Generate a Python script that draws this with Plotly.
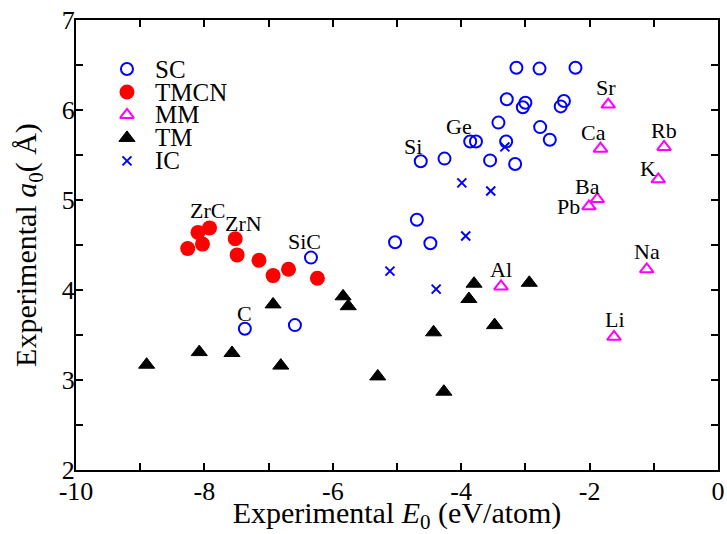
import plotly.graph_objects as go

# Experimental cohesive energy E0 (eV/atom) and lattice constant a0 (Angstrom)
sc_e0 = [-3.14, -2.78, -2.22, -3.29, -3.00, -3.04, -2.40, -2.45, -3.42, -2.77,
         -3.86, -3.77, -3.30, -2.62, -4.63, -4.26, -3.55, -3.16, -4.69, -5.03,
         -4.48, -6.34, -7.37, -6.59]
sc_a0 = [6.47, 6.46, 6.47, 6.12, 6.08, 6.03, 6.10, 6.04, 5.86, 5.81,
         5.65, 5.65, 5.65, 5.67, 5.43, 5.46, 5.44, 5.40, 4.78, 4.53,
         4.52, 4.36, 3.57, 3.61]
sc_names = ["", "", "", "", "", "", "", "", "", "",
            "Ge", "", "", "", "Si", "", "", "", "", "",
            "", "SiC", "C", ""]

tmcn_e0 = [-7.92, -8.10, -8.26, -8.03, -7.52, -7.49, -7.15, -6.93, -6.69, -6.24]
tmcn_a0 = [4.69, 4.64, 4.46, 4.51, 4.57, 4.39, 4.33, 4.16, 4.23, 4.13]
tmcn_names = ["ZrC", "", "", "", "ZrN", "", "", "", "", ""]

mm_e0 = [-1.71, -1.83, -0.84, -0.93, -1.88, -2.01, -1.11, -1.62, -3.38]
mm_a0 = [6.06, 5.57, 5.59, 5.23, 5.01, 4.93, 4.23, 3.48, 4.04]
mm_names = ["Sr", "Ca", "Rb", "K", "Ba", "Pb", "Na", "Li", "Al"]

tm_e0 = [-8.90, -8.08, -7.57, -6.81, -6.93, -5.84, -5.76, -5.30, -4.43, -4.27,
         -3.88, -3.80, -3.48, -2.94]
tm_a0 = [3.17, 3.31, 3.30, 3.16, 3.84, 3.93, 3.82, 3.04, 3.53, 2.87,
         3.90, 4.07, 3.61, 4.08]

ic_e0 = [-3.32, -3.99, -3.54, -3.93, -5.11, -4.39]
ic_a0 = [5.59, 5.19, 5.10, 4.60, 4.21, 4.01]

legend_names = ["SC", "TMCN", "MM", "TM", "IC"]

x_ticks = [-10, -8, -6, -4, -2, 0]
x_ticktext = ["-10", "-8", "-6", "-4", "-2", "0"]
y_ticks = [2, 3, 4, 5, 6, 7]
y_ticktext = ["2", "3", "4", "5", "6", "7"]

FONT = "Liberation Serif"

# marker styles per class
styles = {
    "SC": dict(symbol="circle-open", size=12, color="#0000ff", line=dict(width=2, color="#0000ff")),
    "TMCN": dict(symbol="circle", size=15, color="#ff0000", line=dict(width=0)),
    "MM": dict(symbol="triangle-up-open", size=12, color="#ff00ff", line=dict(width=2, color="#ff00ff")),
    "TM": dict(symbol="triangle-up", size=14, color="#000000", line=dict(width=1, color="#000000")),
    "IC": dict(symbol="x-thin", size=9, color="#0000ff", line=dict(width=2, color="#0000ff")),
}

series = [
    ("SC", sc_e0, sc_a0),
    ("TMCN", tmcn_e0, tmcn_a0),
    ("MM", mm_e0, mm_a0),
    ("TM", tm_e0, tm_a0),
    ("IC", ic_e0, ic_a0),
]

fig = go.Figure()
for name, xs, ys in series:
    fig.add_trace(go.Scatter(x=xs, y=ys, mode="markers", name=name,
                             marker=styles[name], showlegend=False,
                             cliponaxis=False))

# text labels next to selected compounds / elements (pixel offsets)
label_offsets = {
    "Si": (-8, 15), "Ge": (-11, 15), "SiC": (-6, 16), "C": (0, 15),
    "ZrC": (-2, 17), "ZrN": (8, 15),
    "Sr": (-2, 17), "Ca": (-7, 16), "Rb": (0, 16), "K": (-10, 11),
    "Ba": (-10, 13), "Pb": (-20, 0), "Na": (0, 18), "Li": (1, 17), "Al": (0, 17),
}
annotations = []
for names, xs, ys in [(sc_names, sc_e0, sc_a0), (tmcn_names, tmcn_e0, tmcn_a0),
                      (mm_names, mm_e0, mm_a0)]:
    for n, xv, yv in zip(names, xs, ys):
        if not n:
            continue
        dx, dy = label_offsets[n]
        annotations.append(dict(x=xv, y=yv, text=n, showarrow=False,
                                xshift=dx, yshift=dy,
                                font=dict(family=FONT, size=22, color="black")))

# legend box drawn on an overlay axis in plot-fraction units
leg_x = 0.0794
leg_text_x = 0.12
leg_y = [0.891, 0.840, 0.789, 0.738, 0.687]
for name, yy in zip(legend_names, leg_y):
    fig.add_trace(go.Scatter(x=[leg_x], y=[yy], mode="markers", marker=styles[name],
                             xaxis="x2", yaxis="y2", showlegend=False,
                             hoverinfo="skip"))
    annotations.append(dict(x=leg_text_x, y=yy, xref="paper", yref="paper",
                            text=name, showarrow=False, xanchor="left",
                            yanchor="middle",
                            font=dict(family=FONT, size=25, color="black")))

axis_common = dict(
    showline=True, linewidth=2, linecolor="black", mirror="ticks",
    ticks="inside", ticklen=7, tickwidth=1.5, tickcolor="black",
    showgrid=False, zeroline=False, automargin=False, tickmode="array",
    tickfont=dict(family=FONT, size=26, color="black"),
)

fig.update_layout(
    width=727, height=534,
    margin=dict(l=76, r=9, t=20, b=64),
    paper_bgcolor="white", plot_bgcolor="white",
    xaxis=dict(range=[-10, 0], tickvals=x_ticks, ticktext=x_ticktext,
               ticklabelstandoff=-3,
               minor=dict(dtick=1, tick0=-10, ticks="inside", ticklen=7,
                          tickwidth=1.5, tickcolor="black", showgrid=False),
               title=dict(text="Experimental <i>E</i><sub>0</sub> (eV/atom)",
                          font=dict(family=FONT, size=30, color="black"),
                          standoff=3),
               **axis_common),
    yaxis=dict(range=[2, 7], tickvals=y_ticks, ticktext=y_ticktext,
               ticklabelstandoff=-6,
               minor=dict(dtick=0.5, tick0=2, ticks="inside", ticklen=7,
                          tickwidth=1.5, tickcolor="black", showgrid=False),
               title=dict(text="Experimental <i>a</i><sub>0</sub>( Å)",
                          font=dict(family=FONT, size=30, color="black"),
                          standoff=16),
               **axis_common),
    xaxis2=dict(range=[0, 1], overlaying="x", visible=False, fixedrange=True),
    yaxis2=dict(range=[0, 1], overlaying="y", visible=False, fixedrange=True),
    annotations=annotations,
    showlegend=False,
)

fig.write_html("out.html")
